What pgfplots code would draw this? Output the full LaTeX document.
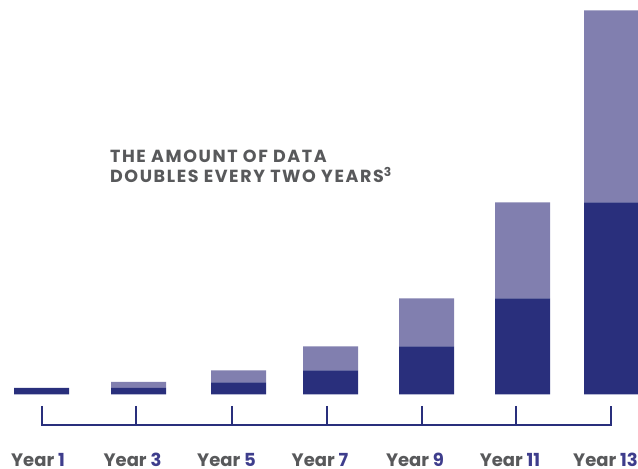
\documentclass[border=0pt]{standalone}
\usepackage{fontspec}
\setmainfont{Poppins}
\usepackage{pgfplots}
\pgfplotsset{compat=1.18}
\definecolor{darkbar}{RGB}{41,47,124}
\definecolor{lightbar}{RGB}{129,127,175}
\definecolor{txtgray}{RGB}{88,89,91}
\definecolor{numblue}{RGB}{62,61,140}
\begin{document}
\begin{tikzpicture}
\begin{axis}[
  width=638bp, height=469bp, scale only axis,
  xmin=0, xmax=638, ymin=-74.5, ymax=394.5,
  hide axis, clip=false,
  ybar stacked, bar width=55,
]
\addplot[fill=darkbar, draw=none] coordinates {(41.5,6.5) (138.5,6.5) (238.5,12) (330.5,24) (426.5,48) (522.5,96) (611.5,192)};
\addplot[fill=lightbar, draw=none] coordinates {(41.5,0) (138.5,6) (238.5,12) (330.5,24) (426.5,48) (522.5,96) (611.5,192)};
\end{axis}
\begin{axis}[
  width=638bp, height=469bp, scale only axis,
  xmin=0, xmax=638, ymin=-74.5, ymax=394.5,
  hide axis, clip=false,
]
\addplot[darkbar, line width=2bp, line join=miter] coordinates {(41.7,-11.5) (41.7,-30.5) (611.3,-30.5) (611.3,-11.5)};
\addplot[darkbar, line width=2bp] coordinates {(136.3,-11.5) (136.3,-30.5)};
\addplot[darkbar, line width=2bp] coordinates {(231.7,-11.5) (231.7,-30.5)};
\addplot[darkbar, line width=2bp] coordinates {(326.7,-11.5) (326.7,-30.5)};
\addplot[darkbar, line width=2bp] coordinates {(421.7,-11.5) (421.7,-30.5)};
\addplot[darkbar, line width=2bp] coordinates {(516.3,-11.5) (516.3,-30.5)};
\foreach \x/\n in {38/1,132.5/3,226.5/5,320/7,415/9,510/11,605.5/13}{
  \edef\tmp{\noexpand\node[anchor=base, inner sep=0pt, text depth=0pt, font=\noexpand\fontsize{18bp}{20bp}\noexpand\selectfont\noexpand\bfseries] at (axis cs:\x,-72) {\noexpand\textcolor{txtgray}{Year} \noexpand\textcolor{numblue}{\n}};}
  \tmp
}
\node[anchor=base west, inner sep=0pt, align=left, text=txtgray, font=\fontsize{17.5bp}{20bp}\selectfont\bfseries\addfontfeatures{LetterSpace=9}] at (axis cs:110,211.5) {THE AMOUNT OF DATA\\DOUBLES EVERY TWO YEARS\textsuperscript{3}};
\end{axis}
\pgfresetboundingbox
\useasboundingbox (0,0) rectangle (638bp,469bp);
\end{tikzpicture}
\end{document}
